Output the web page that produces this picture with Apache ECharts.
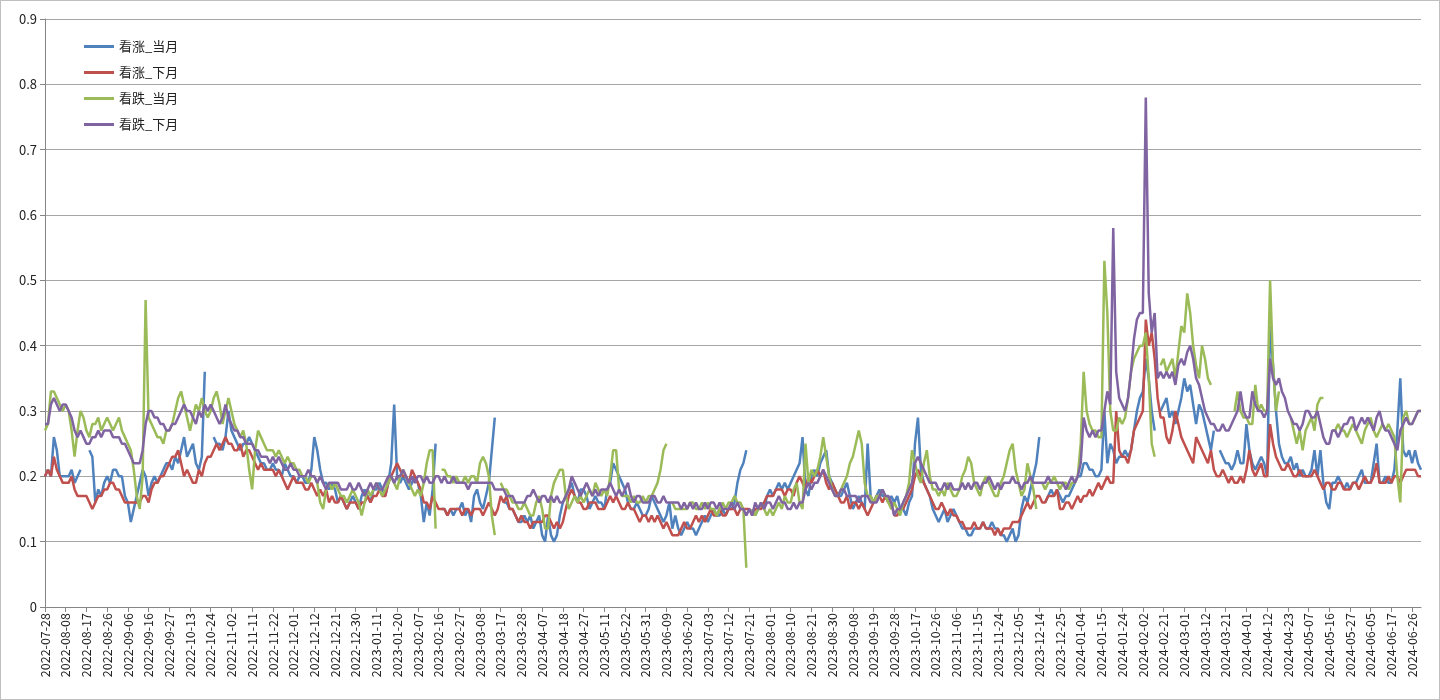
<!DOCTYPE html>
<html>
<head>
    <meta charset="utf-8">
    <title>看涨看跌</title>
    <style>
        body { margin: 0; background: #fff; }
        #chart { width: 1438px; height: 698px; border: 1px solid #bfbfbf; }
    </style>
</head>
<body>
    <div id="chart"></div>
    <script src="https://cdn.jsdelivr.net/npm/echarts@6/dist/echarts.min.js"></script>
    <script>
        // 数值以百分位记录（20 = 0.20），'-' 表示缺失
        var upCur = '20,21,20,26,24,20,20, 20,20,21,19,20,21,-, -,24,23,16,18,17,19, 20,19,21,21,20,20,17, 16,13,15,17,19,21,20, 17,19,20,19,20,21,22, 22,21,23,22,24,26,23, 24,25,22,21,23,36,-, -,26,25,25,24,26,30, 27,26,25,24,25,25,26, 25,24,23,22,22,21,21, 22,21,21,20,22,21,20, 20,19,20,20,19,19,21, 26,24,21,19,19,18,19, 18,16,17,16,15,16,17, 16,15,17,18,17,16,18, 18,19,18,17,19,22,31, 20,19,20,19,18,19,20, 19,17,13,16,14,18,25, -,15,15,14,15,14,15, 15,16,14,15,13,17,18, 16,15,17,19,24,29,-, -,16,16,15,15,14,13, 13,14,13,14,12,13,14, 11,10,14,11,10,11,14, 16,17,18,19,17,16,18, 18,17,15,16,17,16,16, 15,18,19,22,21,20,19, 18,16,15,15,16,15,14, 14,15,17,16,15,14,13, 14,16,12,14,12,11,12, 13,12,12,11,12,13,14, 13,14,15,14,14,15,14, 15,15,16,19,21,22,24, -,15,14,15,16,15,17, 18,17,18,19,18,19,18, 19,20,21,22,26,18,17, 20,21,20,22,23,24,20, 19,18,17,17,18,19,17, 15,16,17,16,15,25,17, 16,17,18,17,17,16,17, 16,17,15,15,14,16,17, 25,29,21,19,18,17,15, 14,13,14,15,13,14,15, 14,13,12,12,11,11,12, 12,12,13,12,12,13,12, 12,11,11,10,11,12,10, 11,15,17,16,18,20,22, 26,-,16,17,18,17,18, 17,16,17,17,18,19,20, 20,22,22,21,21,20,20, 21,30,22,25,24,22,23, 23,24,23,24,27,30,32, 33,38,35,30,27,-,30, 31,32,29,30,28,30,32, 35,33,34,31,28,31,30, 28,26,24,27,-,24,23, 22,22,21,22,24,22,22, 28,24,22,21,22,23,22, 20,43,37,30,25,23,22, 22,23,21,22,20,21,20, 20,21,24,20,24,19,16, 15,19,19,20,19,18,19, 18,19,19,20,21,19,19, 19,22,25,19,19,20,19, 19,21,27,35,24,23,24, 22,24,22,21';
        var upNext = '20,21,20,23,21,20,19, 19,19,20,18,17,17,17, 17,16,15,16,17,17,18, 18,19,19,18,18,17,16, 16,16,16,16,16,17,17, 16,18,19,19,20,20,21, 22,23,23,24,22,20,21, 20,19,19,21,20,22,23, 23,24,25,24,25,26,25, 25,24,24,25,23,24,24, 23,22,21,22,21,21,21, 21,20,21,20,19,18,19, 20,19,19,19,18,18,19, 18,17,18,17,18,16,17, 16,16,17,16,15,16,16, 16,15,16,16,17,16,17, 17,18,17,17,19,20,21, 22,21,20,20,19,21,20, 19,18,16,16,15,17,16, 15,15,15,14,15,15,15, 15,14,15,15,14,15,15, 15,14,15,16,15,14,15, 17,16,17,15,15,14,13, 14,13,13,12,13,13,13, 13,14,14,13,12,13,12, 13,15,17,18,17,16,16, 15,15,16,16,16,15,15, 15,16,17,16,17,16,15, 15,16,15,15,14,13,14, 14,13,14,13,14,13,12, 13,12,11,11,11,12,13, 12,12,13,14,13,14,13, 14,15,14,14,15,14,14, 15,15,15,14,15,15,15, 15,14,15,15,15,16,17, 17,17,18,18,18,17,18, 18,17,19,20,19,18,20, 19,20,21,20,21,19,18, 19,18,17,16,16,17,15, 16,16,15,16,15,14,15, 16,17,17,16,17,16,16, 14,14,15,15,16,17,18, 20,21,20,19,18,17,16, 15,15,16,15,14,15,14, 14,13,13,12,12,12,13, 12,12,13,12,12,12,11, 12,11,12,12,12,13,13, 13,14,15,16,15,16,17, 17,16,16,17,17,17,18, 15,15,16,16,15,16,17, 16,17,17,18,17,18,19, 18,19,20,19,19,30,24, 23,23,22,24,27,28,29, 30,44,40,42,38,32,29, 29,26,25,27,30,28,26, 25,24,23,22,26,25,24, 23,22,24,21,20,20,21, 20,19,20,19,19,20,19, 21,24,21,20,21,22,20, 20,28,25,23,22,21,21, 22,21,20,20,21,20,20, 20,20,21,20,19,18,19, 19,18,18,19,19,18,18, 18,19,19,18,19,20,19, 19,20,22,19,19,19,20, 19,20,20,19,20,21,21, 21,21,20,20';
        var downCur = '27,28,33,33,32,31,30, 31,30,27,23,27,30,29, 27,26,28,28,29,27,28, 29,28,27,28,29,27,26, 25,24,21,17,15,20,47, 29,28,27,26,26,25,27, 27,28,30,32,33,31,29, 27,29,31,30,32,30,29, 30,32,33,31,28,30,32, 30,28,27,26,27,25,21, 18,24,27,26,25,24,24, 24,23,24,23,22,23,22, 22,21,21,20,20,19,20, 20,19,16,15,18,19,18, 19,18,17,17,16,17,18, 17,16,14,16,18,17,18, 19,18,17,18,19,20,19, 18,20,21,20,19,18,17, 18,17,19,22,24,24,12, -,21,21,20,20,19,20, 19,19,20,19,20,20,19, 22,23,22,20,14,11,-, 19,18,18,17,16,16,15, 15,16,15,14,14,16,17, 15,12,12,17,19,20,21, 21,17,15,16,17,16,17, 16,17,18,17,19,18,17, 18,17,20,24,24,18,17, 17,17,16,17,16,16,17, 16,17,17,18,19,21,24, 25,-,16,15,15,15,15, 15,16,16,15,15,16,15, 16,15,15,14,15,16,15, 16,16,17,16,16,15,6, -,15,14,15,16,15,14, 15,14,15,16,15,17,16, 16,18,19,16,15,25,19, 21,20,21,23,26,23,20, 18,17,17,18,19,20,22, 23,25,27,25,19,17,17, 16,17,17,18,17,16,15, 16,15,14,16,17,19,24, 22,20,19,22,24,20,18, 18,17,18,17,19,18,17, 17,18,20,21,23,22,19, 18,17,19,20,19,18,17, 17,19,20,22,24,25,21, 19,17,18,22,20,18,15, -,19,18,19,19,20,19, 18,19,19,18,19,19,20, 25,36,30,28,27,27,26, 26,53,45,30,27,27,29, 28,29,32,36,38,39,40, 40,42,35,25,23,-,37, 38,36,37,38,35,39,43, 42,48,45,40,37,35,40, 38,35,34,-,-,-,-, -,-,-,30,33,30,29, 29,28,28,34,30,31,30, 30,50,37,30,33,-,-, -,29,27,25,27,24,27, 28,29,27,31,32,32,-, -,27,27,28,27,27,26, 27,28,27,26,25,27,28, 29,27,26,27,28,27,28, 27,26,20,16,29,30,28, 28,29,30,30';
        var downNext = '28,28,31,32,31,30,31, 31,30,29,27,26,27,26, 25,25,26,26,27,26,27, 27,27,26,26,26,25,25, 24,23,22,22,22,24,28, 30,30,29,29,28,28,27, 27,28,28,29,30,31,30, 30,29,28,30,29,31,30, 31,30,29,28,29,31,29, 28,27,27,26,26,25,25, 25,24,24,23,23,23,22, 23,22,23,22,21,21,22, 21,21,20,20,20,21,20, 20,19,20,19,18,19,19, 19,19,18,18,18,19,18, 18,19,18,17,18,19,18, 19,18,18,19,20,20,19, 20,20,21,20,19,20,19, 20,20,19,20,19,19,20, 20,19,20,19,19,20,19, 19,19,19,18,19,19,19, 19,19,19,19,19,18,18, 18,18,17,17,17,16,16, 16,16,17,17,18,17,16, 17,17,16,17,16,17,16, 16,17,18,20,19,18,17, 18,19,18,17,18,17,18, 18,18,19,18,17,18,17, 18,19,17,16,17,17,16, 16,16,17,17,16,16,17, 16,16,16,16,16,15,16, 15,16,15,16,15,15,16, 15,16,16,15,16,15,15, 15,16,15,16,15,15,14, 15,14,16,15,16,15,16, 16,15,16,17,16,16,15, 15,16,15,16,16,18,19, 18,19,19,20,21,20,19, 18,17,17,18,18,17,17, 17,17,16,17,17,17,16, 16,16,17,18,17,17,16, 14,15,15,16,17,18,19, 22,23,22,21,20,19,19, 19,18,18,19,18,19,18, 18,18,19,18,19,18,19, 19,18,19,19,20,19,18, 19,18,19,19,19,20,19, 19,18,19,19,20,19,19, 19,19,19,20,19,19,19, 19,19,18,19,20,19,20, 22,29,27,26,27,26,27, 27,30,33,31,58,36,32, 31,30,32,36,41,44,45, 45,78,48,42,45,35,36, 35,36,35,36,34,37,38, 37,39,40,38,35,34,32, 30,29,28,28,27,27,28, 27,27,28,29,30,33,30, 29,29,33,31,30,30,29, 30,38,35,34,35,33,32, 30,29,28,28,27,28,30, 30,29,29,30,28,26,25, 25,27,27,26,27,28,28, 29,29,27,28,29,28,29, 28,27,29,30,28,27,27, 26,25,24,27,28,29,28, 28,29,30,30';
        var seriesNames = ['看涨_当月', '看涨_下月', '看跌_当月', '看跌_下月'];
        var seriesColors = ['#4F81BD', '#C0504D', '#9BBB59', '#8064A2'];
        var yTicks = [0, 0.1, 0.2, 0.3, 0.4, 0.5, 0.6, 0.7, 0.8, 0.9];
        var holidays = ['2022-09-12', '2022-10-03', '2022-10-04', '2022-10-05', '2022-10-06', '2022-10-07',
            '2023-01-02', '2023-01-23', '2023-01-24', '2023-01-25', '2023-01-26', '2023-01-27',
            '2023-04-05', '2023-05-01', '2023-05-02', '2023-05-03', '2023-06-22', '2023-06-23',
            '2023-09-29', '2023-10-02', '2023-10-03', '2023-10-04', '2023-10-05', '2023-10-06',
            '2024-01-01', '2024-02-09', '2024-02-12', '2024-02-13', '2024-02-14', '2024-02-15', '2024-02-16',
            '2024-04-04', '2024-04-05', '2024-05-01', '2024-05-02', '2024-05-03', '2024-06-10'];

        function parse(s) {
            return s.split(',').map(function (t) {
                t = t.trim();
                return t === '-' ? null : Number(t) / 100;
            });
        }
        var data = [upCur, upNext, downCur, downNext].map(parse);

        // 交易日
        var dates = [];
        var d = new Date(Date.UTC(2022, 6, 28));
        while (dates.length < data[0].length) {
            var s = d.toISOString().slice(0, 10);
            var wd = d.getUTCDay();
            if (wd !== 0 && wd !== 6 && holidays.indexOf(s) < 0) dates.push(s);
            d.setUTCDate(d.getUTCDate() + 1);
        }

        var chart = echarts.init(document.getElementById('chart'));
        chart.setOption({
            animation: false,
            textStyle: { fontFamily: 'Noto Sans CJK SC' },
            grid: { left: 44, right: 18, top: 18, bottom: 92 },
            legend: {
                orient: 'vertical', left: 78, top: 34, itemGap: 13,
                itemWidth: 30, itemHeight: 3, icon: 'rect',
                textStyle: { fontSize: 13, color: '#222' },
                data: seriesNames
            },
            xAxis: {
                type: 'category', data: dates, boundaryGap: false,
                axisLine: { lineStyle: { color: '#868686' } },
                axisTick: { interval: 6, lineStyle: { color: '#868686' } },
                axisLabel: { interval: 6, rotate: 90, fontSize: 12.5, color: '#222', margin: 6 }
            },
            yAxis: {
                type: 'value', min: 0, max: 0.9, interval: 0.1,
                axisLine: { show: true, lineStyle: { color: '#868686' } },
                axisTick: { show: true },
                splitLine: { lineStyle: { color: '#a6a6a6' } },
                axisLabel: { fontSize: 13, color: '#222', formatter: function (v) {
                    return yTicks.indexOf(Math.round(v * 10) / 10) >= 0 ? String(Math.round(v * 10) / 10) : '';
                } }
            },
            series: seriesNames.map(function (n, i) {
                return {
                    name: n, type: 'line', data: data[i], showSymbol: false,
                    connectNulls: false,
                    lineStyle: { width: 2.5, color: seriesColors[i] },
                    itemStyle: { color: seriesColors[i] }
                };
            })
        });
    </script>
</body>
</html>
